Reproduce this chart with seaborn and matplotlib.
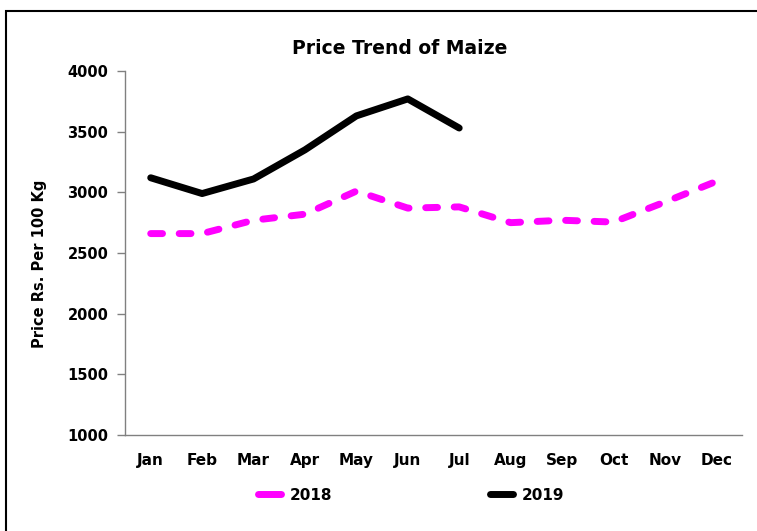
import pandas as pd
import seaborn as sns
import matplotlib.pyplot as plt
from matplotlib.lines import Line2D
from matplotlib.patches import Rectangle

# Chart data
months = ["Jan", "Feb", "Mar", "Apr", "May", "Jun",
          "Jul", "Aug", "Sep", "Oct", "Nov", "Dec"]
price_2018 = [2660, 2660, 2770, 2820, 3010, 2870, 2880, 2750, 2770, 2755, 2920, 3090]
price_2019 = [3120, 2990, 3110, 3350, 3630, 3770, 3530]
y_ticks = [1000, 1500, 2000, 2500, 3000, 3500, 4000]

df = pd.concat([
    pd.DataFrame({"month": months, "price": price_2018, "year": "2018"}),
    pd.DataFrame({"month": months[:len(price_2019)], "price": price_2019, "year": "2019"}),
])

sns.set_style("white")
plt.rcParams["font.family"] = ["DejaVu Sans"]
plt.rcParams["font.weight"] = "bold"
plt.rcParams["text.color"] = "black"

fig = plt.figure(figsize=(7.57, 5.31), dpi=100)
ax = fig.add_axes([125 / 757, 1 - 435 / 531, 617 / 757, 364 / 531])

colors = {"2018": "#ff00ff", "2019": "#000000"}
sns.lineplot(data=df, x="month", y="price", hue="year", style="year",
             palette=colors, dashes={"2018": (1.7, 2.4), "2019": ""},
             lw=5, sort=False, legend=False, ax=ax)
for ln in ax.get_lines():
    ln.set_dash_capstyle("round")
    ln.set_solid_capstyle("round")
    ln.set_solid_joinstyle("round")
    ln.set_dash_joinstyle("round")

# Axes styling
ax.set_xlim(-0.5, len(months) - 0.5)
ax.set_ylim(1000, 4000)
ax.set_yticks(y_ticks)
ax.set_xticks(range(len(months)))
ax.set_xticklabels(months, fontsize=11, fontweight="bold")
ax.set_xticks([i - 0.5 for i in range(len(months) + 1)], minor=True)
ax.tick_params(axis="x", which="major", length=0, pad=13, labelcolor="black")
ax.tick_params(axis="x", which="minor", length=5, width=1, color="#808080", direction="out")
ax.tick_params(axis="y", length=6, width=1, color="#808080", pad=6, labelsize=10.5,
               left=True, labelcolor="black")
for lab in ax.get_yticklabels():
    lab.set_fontweight("bold")
ax.set_xlabel("")
ax.set_ylabel("")
sns.despine(ax=ax)
for side in ["left", "bottom"]:
    ax.spines[side].set_color("#808080")
    ax.spines[side].set_linewidth(1)

fig.text(400 / 757, 1 - 48 / 531, "Price Trend of Maize", ha="center", va="center",
         fontsize=13.5, fontweight="bold", color="black")
fig.text(40 / 757, 1 - 264 / 531, "Price Rs. Per 100 Kg", ha="center", va="center",
         rotation=90, fontsize=10.5, fontweight="bold", color="black")

handles = [Line2D([], [], color=colors["2018"], lw=5, solid_capstyle="round"),
           Line2D([], [], color=colors["2019"], lw=5, solid_capstyle="round")]
fig.legend(handles, ["2018", "2019"], ncol=2, loc="center left",
           bbox_to_anchor=(258 / 757, 1 - 495 / 531), frameon=False,
           prop={"size": 11, "weight": "bold"}, handlelength=1.5,
           handletextpad=0.6, columnspacing=10.3, borderpad=0, borderaxespad=0)

# Outer border
fig.add_artist(Rectangle((6 / 757, -0.05), 1.2, 1.05 - 11 / 531,
                         transform=fig.transFigure, fill=False,
                         edgecolor="black", lw=1.5))

fig.savefig("out.png", dpi=100)
